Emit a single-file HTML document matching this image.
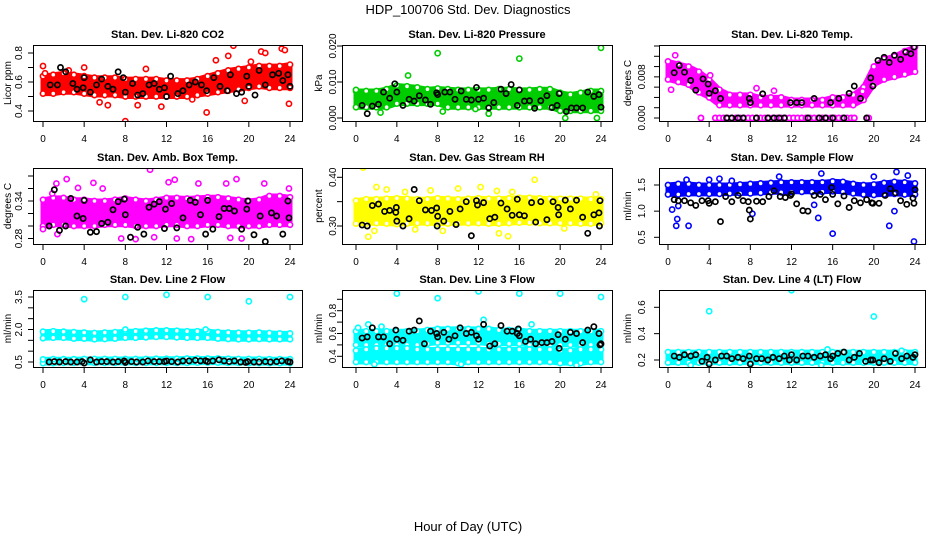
<!DOCTYPE html>
<html><head><meta charset="utf-8"><title>HDP_100706 Std. Dev. Diagnostics</title>
<style>
html,body{margin:0;padding:0;background:#fff;}
svg{display:block;font-family:"Liberation Sans",sans-serif;}
</style></head>
<body>
<svg id="chart" width="936" height="540" viewBox="0 0 936 540" xmlns="http://www.w3.org/2000/svg">
<rect x="0" y="0" width="936" height="540" fill="#fff"/>
<text x="468" y="14" text-anchor="middle" font-size="13">HDP_100706  Std. Dev. Diagnostics</text>
<text x="468" y="531" text-anchor="middle" font-size="13">Hour of Day (UTC)</text>
</svg>
<script>
// ---------- data ----------
const xTicks = [0,4,8,12,16,20,24];
const bandHours = [0,1,2,3,4,5,6,7,8,9,10,11,12,13,14,15,16,17,18,19,20,21,22,23,24];

// Panel 1: Li-820 CO2
const co2Lo = [0.52,0.52,0.53,0.53,0.52,0.51,0.51,0.51,0.50,0.50,0.50,0.50,0.50,0.50,0.50,0.51,0.52,0.53,0.54,0.55,0.56,0.57,0.56,0.56,0.56];
const co2Hi = [0.64,0.65,0.66,0.65,0.64,0.63,0.63,0.63,0.62,0.62,0.62,0.62,0.61,0.61,0.61,0.62,0.64,0.66,0.68,0.69,0.70,0.71,0.71,0.71,0.72];
const co2Out = [[0,0.71],[4,0.70],[6.3,0.44],[8,0.33],[10,0.69],[11.5,0.43],[15.9,0.39],[16.8,0.75],[18,0.78],[18.5,0.85],[20.2,0.74],[21.2,0.81],[21.6,0.80],[23.2,0.83],[23.5,0.82],[23.9,0.45],[9.2,0.44],[5.5,0.46],[0.2,0.66],[2.5,0.68],[14.5,0.48],[19.6,0.47]];
const co2Black = [[0.7,0.58],[1.4,0.58],[1.7,0.70],[2.2,0.67],[2.9,0.59],[3.3,0.55],[3.9,0.56],[4,0.63],[4.6,0.53],[5.2,0.58],[5.7,0.62],[6.3,0.57],[6.8,0.55],[7.3,0.67],[7.8,0.63],[8,0.53],[8.7,0.59],[9.2,0.51],[9.7,0.52],[10.3,0.58],[10.8,0.59],[11.3,0.55],[11.8,0.56],[12,0.50],[12.4,0.64],[13.1,0.52],[13.6,0.54],[14.2,0.58],[14.8,0.60],[15.4,0.58],[15.9,0.54],[16.6,0.63],[17.2,0.57],[17.9,0.54],[18.2,0.65],[18.8,0.52],[19.3,0.53],[19.8,0.64],[20,0.57],[20.6,0.51],[21,0.68],[21.6,0.58],[22.3,0.65],[22.9,0.66],[23.3,0.61],[23.8,0.65],[24,0.57]];

// Panel 2: Li-820 Pressure
const presLo = [0.003,0.003,0.003,0.003,0.004,0.004,0.004,0.004,0.004,0.003,0.003,0.003,0.003,0.003,0.003,0.003,0.003,0.003,0.003,0.003,0.002,0.002,0.002,0.002,0.002];
const presHi = [0.0075,0.0075,0.0075,0.008,0.009,0.0088,0.0085,0.008,0.0082,0.008,0.0078,0.0078,0.0078,0.0078,0.008,0.008,0.0078,0.0078,0.008,0.008,0.007,0.0065,0.007,0.0075,0.0075];
const presOut = [[8,0.018],[16,0.0165],[24,0.0195],[5.1,0.0118],[20.5,0.0000],[23.6,0.0000],[13,0.0012],[2.4,0.0015],[8.5,0.0018],[0,0.0078],[11.7,0.0025]];
const presBlack = [[0.6,0.0035],[1.1,0.0012],[1.6,0.0033],[2.2,0.0038],[2.7,0.0072],[3.3,0.0055],[3.8,0.0095],[4,0.0072],[4.6,0.0035],[5.2,0.0052],[5.7,0.0047],[6.2,0.0062],[6.8,0.005],[7.3,0.0038],[7.9,0.007],[8,0.0065],[8.7,0.0072],[9.2,0.0072],[9.7,0.0052],[10.3,0.0075],[10.8,0.0052],[11.3,0.005],[11.8,0.0085],[12,0.0052],[12.5,0.0055],[13,0.0028],[13.5,0.0043],[14.2,0.008],[14.7,0.0068],[15.2,0.0093],[15.8,0.0035],[16,0.0078],[16.5,0.0047],[17,0.0048],[17.5,0.0027],[18.1,0.0048],[18.7,0.0062],[19.2,0.0029],[19.7,0.0035],[19.9,0.0068],[20.6,0.0018],[21.1,0.0028],[21.6,0.0028],[22.2,0.0028],[22.7,0.0072],[23.3,0.006],[23.8,0.0065],[24,0.003]];

// Panel 3: Li-820 Temp
const tempLo = [0.0075,0.007,0.0065,0.005,0.004,0.0025,0.0025,0.0025,0.0025,0.0025,0.0025,0.0025,0.0025,0.0025,0.0025,0.0025,0.0025,0.0025,0.0025,0.0035,0.0065,0.0075,0.008,0.0085,0.009];
const tempHi = [0.011,0.0105,0.010,0.009,0.0075,0.0055,0.0045,0.0045,0.0045,0.004,0.004,0.004,0.0035,0.0035,0.0035,0.0035,0.004,0.004,0.0045,0.006,0.010,0.0115,0.012,0.013,0.0138];
const tempZeroHours = [3.2,4.6,5.0,5.4,5.8,6.2,6.6,7.0,7.4,7.8,8.2,8.6,9.0,9.4,9.8,10.2,10.6,11.0,11.4,11.8,12.2,12.6,13.0,13.4,13.8,14.2,14.6,15.0,15.4,15.8,16.2,16.6,17.0,17.4,17.8,18.1,19.5];
const tempOut = [[0.3,0.0055],[0.7,0.0122],[8.6,0.0058],[10.3,0.0053],[4.1,0.0083],[18.9,0.0052]];
const tempBlack = [[0.6,0.0088],[1.1,0.0102],[1.6,0.0089],[2.2,0.0073],[2.7,0.0054],[3.4,0.0076],[3.9,0.0066],[4,0.0048],[4.6,0.0053],[5.1,0.0038],[5.7,0],[6.2,0],[6.8,0],[7.3,0],[7.9,0.0038],[8,0.003],[8.6,0],[9.2,0.0047],[9.7,0],[10.3,0],[10.8,0],[11.3,0],[11.9,0.003],[12.5,0.003],[13,0.003],[13.6,0],[14.2,0.0038],[14.7,0],[15.3,0],[15.8,0.003],[16,0],[16.6,0.0038],[17.1,0],[17.6,0.0048],[18.1,0.0062],[18.7,0.0038],[19.3,0],[19.7,0.0078],[19.9,0.0062],[20.4,0.0112],[21,0.0118],[21.5,0.0108],[22,0.0122],[22.6,0.0114],[23.1,0.0128],[23.6,0.0125],[23.9,0.0138]];

// Panel 4: Amb. Box Temp
const ambLo = [0.300,0.302,0.302,0.300,0.300,0.300,0.302,0.302,0.302,0.300,0.300,0.300,0.302,0.302,0.300,0.300,0.302,0.302,0.300,0.300,0.300,0.300,0.302,0.302,0.302];
const ambHi = [0.342,0.345,0.345,0.342,0.342,0.340,0.340,0.342,0.344,0.342,0.340,0.342,0.345,0.345,0.344,0.345,0.346,0.346,0.344,0.342,0.340,0.342,0.348,0.348,0.346];
const ambOut = [[0.9,0.352],[1.3,0.368],[2.3,0.375],[3.4,0.361],[4.9,0.369],[10.4,0.39],[12.2,0.37],[12.8,0.374],[13,0.28],[14.4,0.279],[15.1,0.368],[18.8,0.375],[17.8,0.368],[9,0.279],[21.5,0.368],[23.9,0.36],[0,0.295],[1.4,0.287],[18.2,0.281],[7.6,0.28],[10.8,0.282],[5.8,0.36],[19.3,0.28]];
const ambBlack = [[0.6,0.3],[1.1,0.358],[1.6,0.293],[2.2,0.3],[2.7,0.344],[3.3,0.316],[3.9,0.312],[4,0.341],[4.6,0.29],[5.2,0.291],[5.7,0.304],[6.3,0.306],[6.8,0.326],[7.3,0.339],[7.9,0.343],[8,0.318],[8.5,0.282],[9.2,0.298],[9.8,0.287],[10.3,0.33],[10.8,0.335],[11.3,0.339],[11.8,0.296],[11.9,0.327],[12.5,0.336],[13,0.297],[13.6,0.313],[14.3,0.341],[14.8,0.338],[15.3,0.318],[15.8,0.287],[16,0.341],[16.5,0.295],[17.1,0.315],[17.6,0.328],[18.1,0.328],[18.6,0.324],[19.3,0.295],[19.8,0.327],[19.9,0.34],[20.5,0.286],[21.1,0.316],[21.6,0.275],[22.2,0.321],[22.7,0.316],[23.3,0.287],[23.8,0.34],[23.9,0.313]];

// Panel 5: Gas Stream RH
const rhLo = [0.305,0.305,0.306,0.305,0.304,0.305,0.306,0.306,0.305,0.305,0.306,0.306,0.306,0.305,0.305,0.306,0.307,0.307,0.306,0.306,0.306,0.306,0.305,0.305,0.306];
const rhHi = [0.352,0.355,0.355,0.356,0.357,0.356,0.355,0.355,0.357,0.356,0.355,0.356,0.357,0.356,0.356,0.357,0.358,0.358,0.357,0.356,0.356,0.356,0.356,0.355,0.355];
const rhOut = [[0.7,0.42],[2,0.38],[12.2,0.38],[17.5,0.395],[1.2,0.278],[14.9,0.279],[8.5,0.29],[14,0.285],[1.8,0.29],[23.5,0.365],[3,0.375],[4.8,0.37],[7.3,0.373],[10,0.377],[13.8,0.372],[15.3,0.37],[20.4,0.295],[5.8,0.293]];
const rhBlack = [[0.6,0.302],[1.1,0.3],[1.6,0.342],[2.2,0.345],[2.8,0.33],[3.3,0.332],[3.9,0.328],[3.95,0.338],[4,0.31],[4.6,0.3],[5.2,0.315],[5.7,0.375],[6.2,0.352],[6.8,0.333],[7.4,0.332],[7.9,0.337],[7.95,0.3],[8,0.32],[8.6,0.31],[9.2,0.33],[9.8,0.303],[10.2,0.335],[10.8,0.35],[11.3,0.28],[11.8,0.352],[11.9,0.343],[12.5,0.348],[13.1,0.315],[13.6,0.318],[14.2,0.347],[14.8,0.335],[15.3,0.322],[15.8,0.355],[16,0.323],[16.5,0.321],[17.2,0.348],[17.6,0.308],[18.1,0.35],[18.7,0.313],[19.3,0.35],[19.8,0.338],[19.85,0.323],[20.5,0.353],[21,0.335],[21.6,0.353],[22.2,0.318],[22.7,0.285],[23.3,0.323],[23.8,0.327],[23.85,0.3],[23.9,0.352]];

// Panel 6: Sample Flow
const sfLo = [1.32,1.32,1.33,1.33,1.33,1.33,1.34,1.34,1.34,1.35,1.36,1.36,1.37,1.37,1.37,1.37,1.38,1.37,1.34,1.32,1.31,1.32,1.33,1.32,1.32];
const sfHi = [1.50,1.52,1.52,1.50,1.50,1.50,1.50,1.51,1.52,1.53,1.54,1.55,1.55,1.55,1.55,1.55,1.57,1.56,1.52,1.50,1.51,1.54,1.56,1.55,1.53];
const sfOut = [[0.4,1.03],[0.8,0.72],[0.9,0.85],[1.0,1.1],[2,0.72],[2.1,1.87],[4,1.6],[5,1.62],[6.2,1.58],[8.2,0.95],[10.8,1.66],[14.6,0.87],[14.9,1.72],[16,0.57],[21.2,1.88],[21.5,0.72],[21.9,1.87],[22,1.0],[22.2,1.75],[23.9,0.42],[23.3,1.68],[20,1.66],[1.8,1.6],[14.2,1.12]];
const sfBlack = [[0.6,1.22],[1,1.2],[1.6,1.2],[2.2,1.16],[2.7,1.11],[3.3,1.2],[3.9,1.2],[4,1.15],[4.6,1.18],[5.1,0.8],[5.6,1.28],[6.2,1.18],[6.8,1.3],[7.3,1.2],[7.8,1.18],[7.9,1.02],[8,0.85],[8.6,1.19],[9.2,1.18],[9.8,1.28],[10.3,1.39],[10.9,1.28],[11.4,1.26],[11.9,1.3],[12,1.33],[12.5,1.14],[13.1,1.01],[13.6,1.0],[14.2,1.3],[14.8,1.32],[15.3,1.22],[15.9,1.45],[16,1.32],[16.5,1.14],[17.1,1.29],[17.6,1.07],[18.1,1.2],[18.7,1.16],[19.3,1.22],[19.8,1.16],[19.9,1.15],[20.5,1.15],[21.1,1.3],[21.6,1.43],[22.1,1.35],[22.6,1.2],[23.2,1.13],[23.8,1.25],[23.9,1.15],[24,1.41]];

// Panel 7: Line 2 Flow
const l2UpLo = [1.60,1.62,1.62,1.58,1.58,1.55,1.56,1.58,1.62,1.62,1.64,1.66,1.66,1.64,1.62,1.62,1.62,1.58,1.56,1.55,1.55,1.56,1.55,1.55,1.55];
const l2UpHi = [1.90,1.92,1.90,1.88,1.86,1.84,1.86,1.88,1.92,1.92,1.94,1.96,1.96,1.94,1.92,1.92,1.92,1.88,1.86,1.85,1.85,1.86,1.84,1.82,1.82];
const l2LowLo = [0.45,0.45,0.46,0.46,0.46,0.46,0.46,0.46,0.46,0.46,0.46,0.46,0.46,0.46,0.46,0.47,0.47,0.47,0.46,0.46,0.45,0.45,0.45,0.45,0.45];
const l2LowHi = [0.62,0.63,0.63,0.63,0.64,0.64,0.64,0.64,0.64,0.64,0.64,0.65,0.65,0.65,0.66,0.66,0.66,0.66,0.65,0.64,0.64,0.64,0.63,0.63,0.63];
const l2Out = [[4,3.4],[8,3.5],[12,3.6],[16,3.5],[20,3.3],[24,3.5],[8,2.0],[15.8,2.0]];
const l2BlackHours = [0.6,1.1,1.6,2.2,2.7,3.3,3.8,4,4.6,5.2,5.7,6.2,6.8,7.3,7.9,8,8.6,9.1,9.7,10.2,10.8,11.3,11.8,12,12.5,13.1,13.6,14.2,14.8,15.3,15.8,16,16.5,17.1,17.6,18.1,18.6,19.2,19.7,19.9,20.5,21,21.6,22.1,22.7,23.2,23.8,24];
const l2BlackValues = [0.5,0.52,0.5,0.52,0.5,0.5,0.52,0.45,0.6,0.5,0.52,0.52,0.5,0.52,0.55,0.48,0.52,0.5,0.5,0.55,0.52,0.52,0.52,0.55,0.52,0.5,0.55,0.55,0.58,0.55,0.56,0.52,0.55,0.6,0.55,0.52,0.55,0.5,0.48,0.52,0.5,0.5,0.52,0.5,0.52,0.55,0.52,0.5];

// Panel 8: Line 3 Flow
const l3UpLo = [0.50,0.50,0.50,0.50,0.50,0.50,0.50,0.51,0.52,0.52,0.52,0.52,0.52,0.51,0.51,0.51,0.51,0.50,0.50,0.50,0.50,0.50,0.50,0.50,0.50];
const l3UpHi = [0.62,0.62,0.62,0.62,0.62,0.62,0.62,0.63,0.64,0.64,0.64,0.64,0.64,0.64,0.63,0.63,0.63,0.62,0.62,0.62,0.62,0.62,0.62,0.62,0.62];
const l3LowLo = [0.35,0.35,0.35,0.35,0.35,0.35,0.35,0.35,0.35,0.35,0.34,0.35,0.35,0.35,0.35,0.35,0.35,0.35,0.35,0.35,0.34,0.34,0.34,0.35,0.35];
const l3LowHi = [0.45,0.46,0.47,0.47,0.47,0.47,0.46,0.46,0.46,0.46,0.46,0.46,0.46,0.46,0.46,0.46,0.46,0.46,0.46,0.46,0.45,0.45,0.46,0.46,0.46];
const l3Out = [[4,0.95],[8,0.91],[12,0.97],[16,0.95],[20,0.95],[24,0.92],[12.5,0.72],[0.2,0.65],[1.2,0.68],[2.5,0.66],[17.2,0.68],[10.3,0.33],[21.6,0.32],[1.8,0.33]];
const l3Black = [[0.6,0.56],[1.1,0.57],[1.6,0.65],[2.2,0.57],[2.7,0.57],[3.3,0.51],[3.9,0.63],[4,0.55],[4.6,0.54],[5.2,0.62],[5.7,0.63],[6.2,0.71],[6.7,0.51],[7.3,0.62],[7.9,0.6],[8,0.57],[8.6,0.61],[9.1,0.55],[9.7,0.58],[10.2,0.65],[10.8,0.6],[11.3,0.61],[11.8,0.58],[12,0.55],[12.5,0.68],[13.1,0.49],[13.6,0.51],[14.2,0.67],[14.8,0.62],[15.3,0.62],[15.8,0.6],[15.9,0.64],[16,0.58],[16.6,0.53],[17.1,0.55],[17.6,0.51],[18.2,0.52],[18.7,0.52],[19.2,0.53],[19.8,0.59],[19.9,0.47],[20.5,0.55],[21,0.61],[21.6,0.6],[22.2,0.52],[22.7,0.63],[23.3,0.66],[23.8,0.6],[23.9,0.5],[24,0.51]];

// Panel 9: Line 4 (LT) Flow
const l4Lo = [0.18,0.18,0.18,0.18,0.18,0.18,0.18,0.18,0.18,0.18,0.18,0.18,0.18,0.18,0.18,0.18,0.18,0.18,0.18,0.18,0.18,0.18,0.18,0.18,0.18];
const l4Hi = [0.26,0.26,0.26,0.26,0.26,0.26,0.26,0.26,0.26,0.26,0.26,0.26,0.26,0.26,0.26,0.26,0.26,0.26,0.26,0.26,0.26,0.26,0.26,0.26,0.26];
const l4Out = [[4,0.57],[12,0.73],[20,0.53],[15.5,0.28],[14.9,0.16],[22.7,0.27],[2.2,0.16]];
const l4BlackHours = [0.6,1.1,1.6,2.2,2.7,3.3,3.8,4,4.6,5.2,5.7,6.2,6.8,7.3,7.9,8,8.6,9.1,9.7,10.2,10.8,11.3,11.8,12,12.5,13.1,13.6,14.2,14.8,15.3,15.8,16,16.5,17.1,17.6,18.1,18.6,19.2,19.7,19.9,20.5,21,21.6,22.1,22.7,23.2,23.8,24];
const l4BlackValues = [0.23,0.22,0.24,0.23,0.24,0.19,0.22,0.17,0.2,0.23,0.23,0.21,0.22,0.21,0.23,0.17,0.21,0.21,0.2,0.22,0.21,0.23,0.2,0.24,0.2,0.23,0.23,0.22,0.23,0.24,0.21,0.23,0.25,0.26,0.2,0.22,0.25,0.19,0.2,0.2,0.18,0.21,0.19,0.25,0.21,0.23,0.22,0.24];

// ---------- panels ----------
const panels = [
 {id:'co2', title:'Stan. Dev. Li-820 CO2', ylab:'Licor ppm', col:'#ff0000', box:[33,45,302,121], x0:43, x1:290, yr:[0.4,111,0.8,53], ticks:[0.4,0.5,0.6,0.7,0.8], labels:[0.4,0.6,0.8], dec:1, lx:18, tx:7,
  bands:[[co2Lo,co2Hi]], out:co2Out, black:co2Black, zero:null},
 {id:'pressure', title:'Stan. Dev. Li-820 Pressure', ylab:'kPa', col:'#00cd00', box:[342,45,612,121], x0:356, x1:601, yr:[0,118,0.02,46], ticks:[0,0.01,0.02], labels:[0,0.01,0.02], dec:3, lx:332, tx:318,
  bands:[[presLo,presHi]], out:presOut, black:presBlack, zero:null},
 {id:'temp', title:'Stan. Dev. Li-820 Temp.', ylab:'degrees C', col:'#ff00ff', box:[659,45,925,121], x0:668, x1:915, yr:[0,118,0.014,46], ticks:[0,0.002,0.004,0.006,0.008,0.010,0.012,0.014], labels:[0,0.008], dec:3, lx:641, tx:627,
  bands:[[tempLo,tempHi]], out:tempOut, black:tempBlack, zero:tempZeroHours},
 {id:'amb-box-temp', title:'Stan. Dev. Amb. Box Temp.', ylab:'degrees C', col:'#ff00ff', box:[33,168,302,244], x0:43, x1:290, yr:[0.28,238.5,0.38,176], ticks:[0.28,0.30,0.32,0.34,0.36,0.38], labels:[0.28,0.34], dec:2, lx:18, tx:7,
  bands:[[ambLo,ambHi]], out:ambOut, black:ambBlack, zero:null},
 {id:'gas-rh', title:'Stan. Dev. Gas Stream RH', ylab:'percent', col:'#ffff00', box:[342,168,612,244], x0:356, x1:601, yr:[0.30,226,0.40,177.3], ticks:[0.30,0.35,0.40], labels:[0.30,0.40], dec:2, lx:332, tx:318,
  bands:[[rhLo,rhHi]], out:rhOut, black:rhBlack, zero:null},
 {id:'sample-flow', title:'Stan. Dev. Sample Flow', ylab:'ml/min', col:'#0000ff', box:[659,168,925,244], x0:668, x1:915, yr:[0.5,237.3,1.5,185], ticks:[0.5,1.0,1.5], labels:[0.5,1.0,1.5], dec:1, lx:641, tx:627,
  bands:[[sfLo,sfHi]], out:sfOut, black:sfBlack, zero:null},
 {id:'line2-flow', title:'Stan. Dev. Line 2 Flow', ylab:'ml/min', col:'#00ffff', box:[33,290,302,367], x0:43, x1:290, yr:[0.5,362,3.5,297], ticks:[0.5,1,1.5,2,2.5,3,3.5], labels:[0.5,2.0,3.5], dec:1, lx:18, tx:7,
  bands:[[l2UpLo,l2UpHi],[l2LowLo,l2LowHi]], out:l2Out, black:l2BlackHours.map((h,i)=>[h,l2BlackValues[i]]), zero:null},
 {id:'line3-flow', title:'Stan. Dev. Line 3 Flow', ylab:'ml/min', col:'#00ffff', box:[342,290,612,367], x0:356, x1:601, yr:[0.4,356.3,0.8,310.7], ticks:[0.4,0.5,0.6,0.7,0.8,0.9], labels:[0.4,0.6,0.8], dec:1, lx:332, tx:318,
  bands:[[l3UpLo,l3UpHi],[l3LowLo,l3LowHi]], out:l3Out, black:l3Black, zero:null},
 {id:'line4-flow', title:'Stan. Dev. Line 4 (LT) Flow', ylab:'ml/min', col:'#00ffff', box:[659,290,925,367], x0:668, x1:915, yr:[0.2,360,0.6,307.3], ticks:[0.2,0.4,0.6], labels:[0.2,0.4,0.6], dec:1, lx:641, tx:627,
  bands:[[l4Lo,l4Hi]], out:l4Out, black:l4BlackHours.map((h,i)=>[h,l4BlackValues[i]]), zero:null}
];

const NS = 'http://www.w3.org/2000/svg';
const svg = document.getElementById('chart');
function mk(tag, attrs, parent, txt){
  const e = document.createElementNS(NS, tag);
  for (const k in attrs) e.setAttribute(k, attrs[k]);
  if (txt !== undefined) e.textContent = txt;
  parent.appendChild(e);
  return e;
}
function fmt(v, d){ return v.toFixed(d); }

panels.forEach(p => {
  const g = mk('g', {}, svg);
  
  
  const xs = h => p.x0 + (p.x1 - p.x0) * h / 24;
  const ys = v => p.yr[1] + (v - p.yr[0]) * (p.yr[3] - p.yr[1]) / (p.yr[2] - p.yr[0]);
  const [bx0, by0, bx1, by1] = p.box;
  const cx = (bx0 + bx1) / 2;

  const t = mk('text', {x:cx, y:by0 - 7, 'text-anchor':'middle', 'font-size':'11', 'font-weight':'bold'}, g, p.title);
  
  

  const clip = mk('clipPath', {id:'clip-' + p.id}, g);
  mk('rect', {x:bx0, y:by0, width:bx1 - bx0, height:by1 - by0}, clip);
  const plot = mk('g', {'clip-path':'url(#clip-' + p.id + ')'}, g);
  
  

  // bands of dense points
  p.bands.forEach((b, bi) => {
    const lo = b[0], hi = b[1];
    let d = '';
    bandHours.forEach((h, i) => { d += (i ? 'L' : 'M') + xs(h).toFixed(1) + ',' + ys(hi[i]).toFixed(1); });
    for (let i = bandHours.length - 1; i >= 0; i--) d += 'L' + xs(bandHours[i]).toFixed(1) + ',' + ys(lo[i]).toFixed(1);
    d += 'Z';
    const band = mk('path', {d:d, fill:p.col, stroke:p.col, 'stroke-width':'5', 'stroke-linejoin':'round'}, plot);
    
    
    bandHours.forEach((h, i) => {
      [lo[i], hi[i]].forEach(v => {
        const c = mk('circle', {cx:xs(h), cy:ys(v), r:2.6, fill:'#fff', stroke:p.col, 'stroke-width':1.6}, plot);
        
        
      });
    });
  });
  if (p.zero) {
    p.zero.forEach(h => {
      const c = mk('circle', {cx:xs(h), cy:ys(0), r:2.6, fill:'#fff', stroke:p.col, 'stroke-width':1.8}, plot);
      
      
    });
  }
  p.out.forEach(pt => {
    const c = mk('circle', {cx:xs(pt[0]), cy:ys(pt[1]), r:2.6, fill:'#fff', stroke:p.col, 'stroke-width':1.6}, plot);
    
    
  });
  p.black.forEach(pt => {
    const c = mk('circle', {cx:xs(pt[0]), cy:ys(pt[1]), r:2.6, fill:'none', stroke:'#000', 'stroke-width':1.7}, plot);
    
    
  });

  // frame
  const fr = mk('rect', {x:bx0 + 0.5, y:by0 + 0.5, width:bx1 - bx0, height:by1 - by0, fill:'none', stroke:'#000', 'stroke-width':1}, g);
  
  

  // x axis
  const xa = mk('g', {}, g);
  
  
  xTicks.forEach(h => {
    const x = xs(h);
    mk('line', {x1:x, y1:by1 + 1, x2:x, y2:by1 + 6, stroke:'#000'}, xa);
    const tl = mk('text', {x:x, y:by1 + 21, 'text-anchor':'middle', 'font-size':'10'}, xa, String(h));
    
    
  });

  // y axis
  const ya = mk('g', {}, g);
  
  
  p.ticks.forEach(v => {
    const y = ys(v);
    mk('line', {x1:bx0 - 5, y1:y, x2:bx0, y2:y, stroke:'#000'}, ya);
  });
  p.labels.forEach(v => {
    const y = ys(v);
    const tl = mk('text', {x:p.lx, y:y, 'text-anchor':'middle', 'font-size':'10', transform:'rotate(-90 ' + p.lx + ' ' + y + ')', dy:'4'}, ya, fmt(v, p.dec));
    
    
  });
  const my = (by0 + by1) / 2;
  const yt = mk('text', {x:p.tx, y:my, 'text-anchor':'middle', 'font-size':'10', transform:'rotate(-90 ' + p.tx + ' ' + my + ')', dy:'4'}, ya, p.ylab);
  
  
});
</script>
</body></html>
